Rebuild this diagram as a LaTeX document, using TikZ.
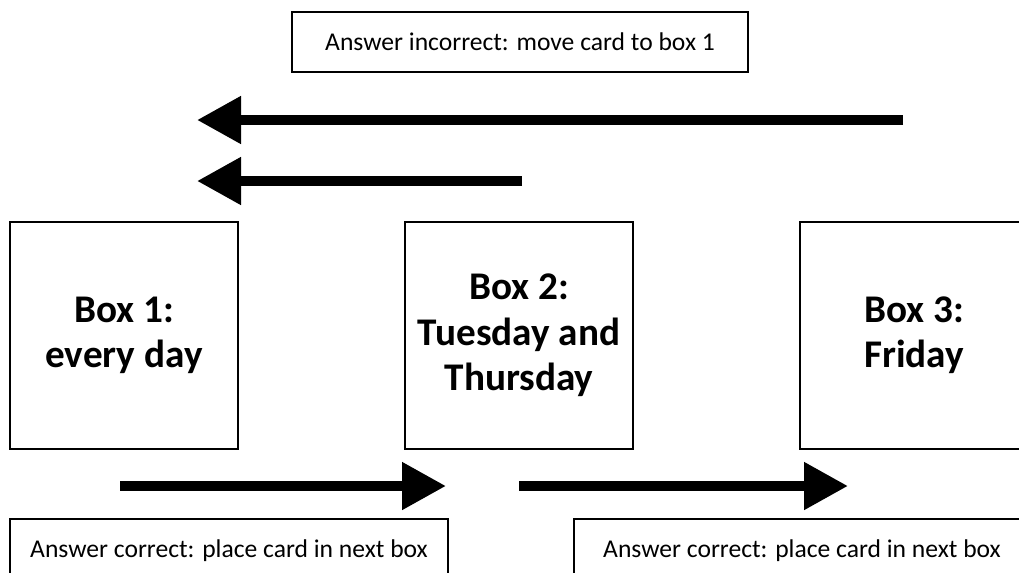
\documentclass[tikz,border=0pt]{standalone}
\usepackage{fontspec}
\setmainfont{Carlito}
\usetikzlibrary{positioning}
\usetikzlibrary{arrows.meta}

\begin{document}
\begin{tikzpicture}[x=0.75pt,y=-0.75pt,
  card/.style={draw,line width=1.5pt,minimum width=171pt,minimum height=170.25pt,
    align=center,font=\fontsize{29.4}{34}\selectfont\bfseries},
  rule/.style={draw,line width=1.5pt,minimum height=48pt,font=\fontsize{19.2}{23}\selectfont},
  move/.style={line width=7.5pt,-{Triangle[length=33pt,width=34pt]}}]
\useasboundingbox (0,0) rectangle (1019,572);
\clip (0,0) rectangle (1019,572);
\node[rule,minimum width=342pt,minimum height=45pt] (wrong) at (520,42) {Answer incorrect: move card to box 1};
\node[card] (box1) at (124,335.5) {Box 1:\\every day};
\node[card,right=123.75pt of box1] (box2) {Box 2:\\Tuesday and\\Thursday};
\node[card,right=123.75pt of box2] (box3) {Box 3:\\Friday};
\node[rule,minimum width=328.5pt] (right1) at (229,551) {Answer correct: place card in next box};
\node[rule,minimum width=342pt] (right2) at (802,551) {Answer correct: place card in next box};
% arrows
\coordinate (back3) at (903,120);
\coordinate (back2) at (522,181);
\coordinate (to1a) at (197,120);
\coordinate (to1b) at (197,181);
\coordinate (fwd1) at (120,486);
\coordinate (to2) at (446,486);
\coordinate (fwd2) at (519,486);
\coordinate (to3) at (848,486);
\draw[move] (back3) -- (to1a);
\draw[move] (back2) -- (to1b);
\draw[move] (fwd1) -- (to2);
\draw[move] (fwd2) -- (to3);
\end{tikzpicture}
\end{document}
